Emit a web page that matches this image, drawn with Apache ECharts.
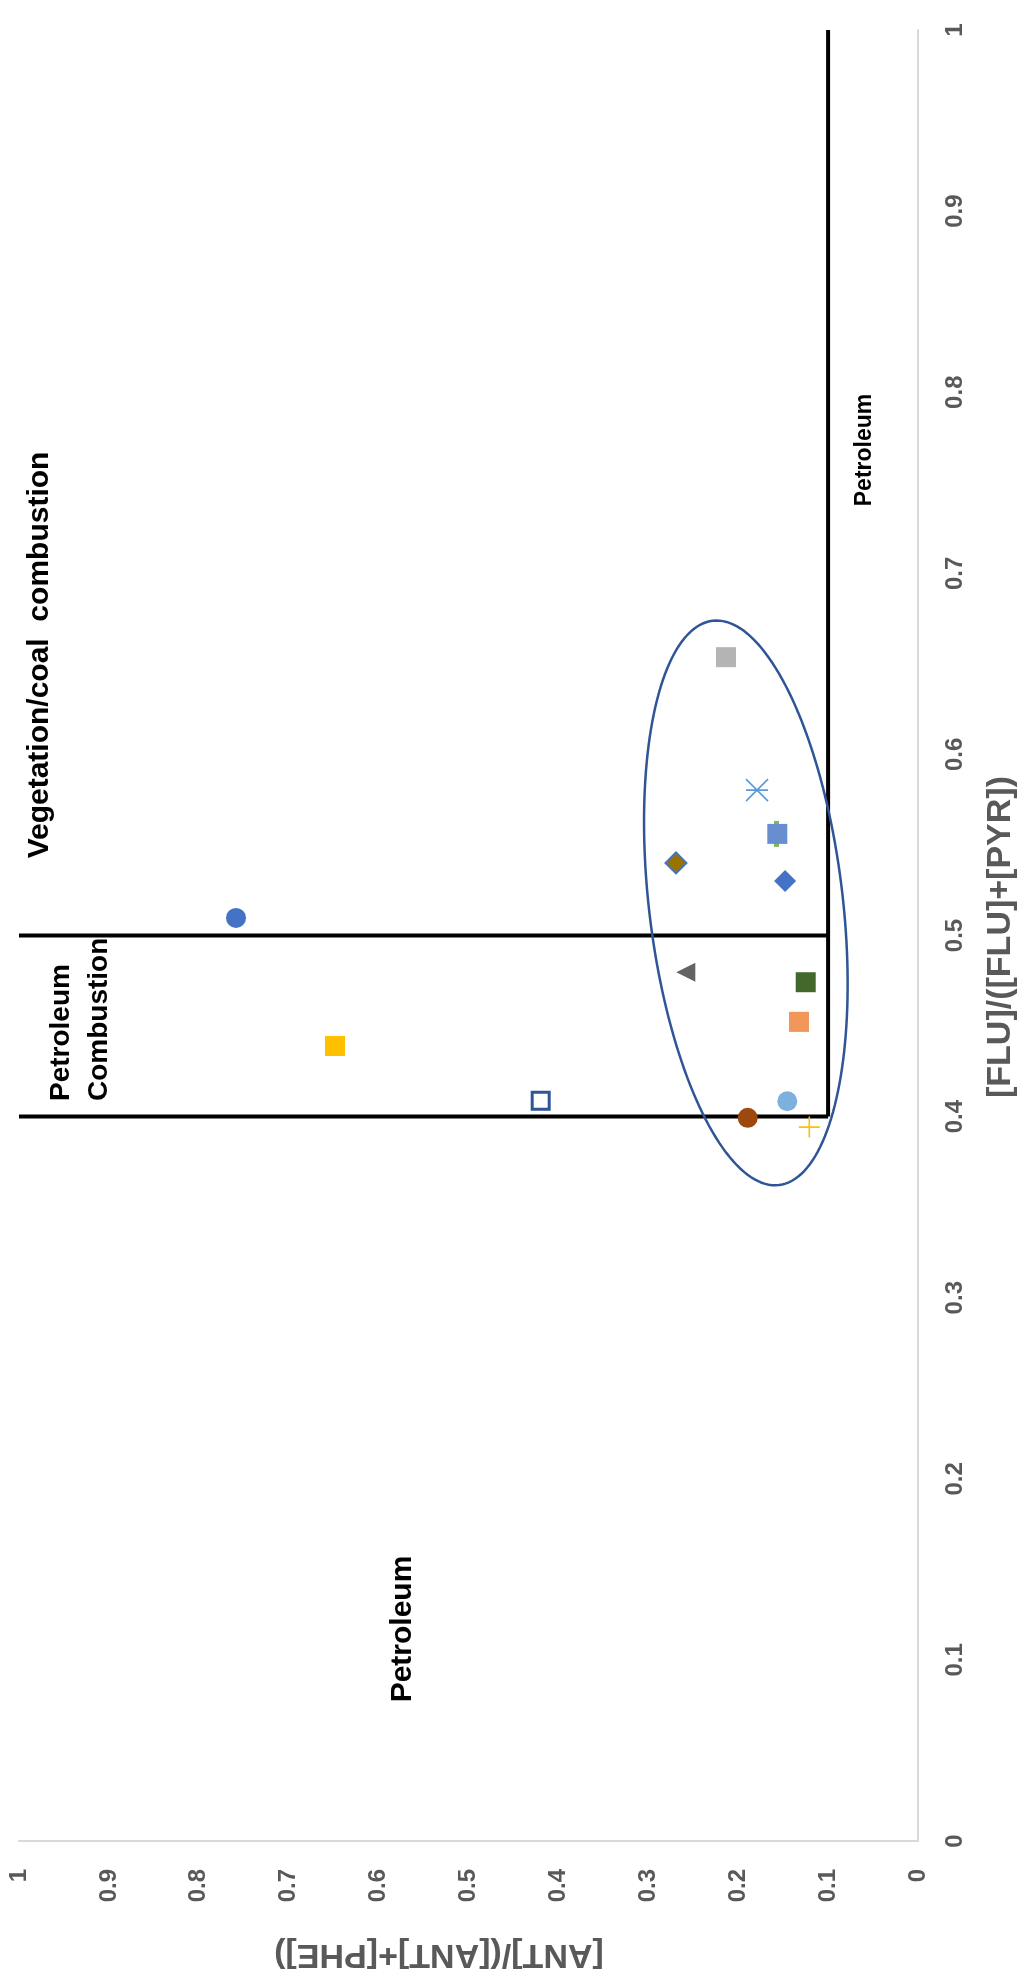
<!DOCTYPE html>
<html>
<head>
<meta charset="utf-8">
<script src="https://cdn.jsdelivr.net/npm/echarts@6/dist/echarts.min.js"></script>
<style>
  html, body { margin: 0; padding: 0; background: #ffffff; }
  #chart { width: 1021px; height: 1986px; }
</style>
</head>
<body>
<div id="chart"></div>
<script>
// PAH diagnostic ratios per sample: ANT/(ANT+PHE) and FLU/(FLU+PYR)
const antRatio = [0.7586, 0.6485, 0.4197, 0.2136, 0.1791, 0.1574, 0.1565, 0.2692, 0.1479, 0.2583, 0.1249, 0.1324, 0.1454, 0.1894, 0.1209];
const fluRatio = [0.5097, 0.4390, 0.4088, 0.6537, 0.5803, 0.5561, 0.5561, 0.5401, 0.5301, 0.4797, 0.4742, 0.4523, 0.4085, 0.3993, 0.3942];

// Axis ticks
const tickMin = 0, tickMax = 1, tickStep = 0.1;

// Source-region boundaries
const fluThresholds = [0.4, 0.5];   // FLU/(FLU+PYR) limits
const antThreshold = 0.1;           // ANT/(ANT+PHE) limit

// Cluster outline: centre [ANT, FLU] and two half-axis vectors in ratio units
const clusterCenter = [0.1915, 0.518];
const clusterAxisA = [-0.0368, -0.1558];
const clusterAxisB = [0.1071, -0.0062];

// Marker styles, one per sample (kept apart from the values)
const asterisk = 'path://M0,0L20,20M20,0L0,20M0,10L20,10';
const plus = 'path://M10,0L10,20M0,10L20,10';
const markerStyles = [
  { symbol: 'circle', size: 20, color: '#4472c4' },
  { symbol: 'rect', size: 20, color: '#ffc000' },
  { symbol: 'rect', size: 17, color: '#ffffff', border: '#2f5597', bw: 3 },
  { symbol: 'rect', size: 20, color: '#b4b4b4' },
  { symbol: asterisk, size: 22, color: 'rgba(0,0,0,0)', border: '#5b9bd5', bw: 1.6 },
  { symbol: 'rect', size: [5, 26], color: '#7fb95a' },
  { symbol: 'rect', size: 20, color: '#698ed0' },
  { symbol: 'diamond', size: 21, color: '#997300', border: '#4472c4', bw: 2 },
  { symbol: 'diamond', size: 22, color: '#4472c4' },
  { symbol: 'triangle', size: 19, color: '#636363', rotate: 90 },
  { symbol: 'rect', size: 20, color: '#43682b' },
  { symbol: 'rect', size: 20, color: '#f1975a' },
  { symbol: 'circle', size: 20, color: '#7eb0df' },
  { symbol: 'circle', size: 20, color: '#9e480e' },
  { symbol: plus, size: 21, color: 'rgba(0,0,0,0)', border: '#ffc000', bw: 1.6 }
];

const chart = echarts.init(document.getElementById('chart'));

const axisLabelStyle = {
  color: '#595959', fontSize: 24, fontWeight: 'bold', fontFamily: 'Liberation Sans, Arial, sans-serif', rotate: 90
};

const boundaryLine = (pts) => ({
  type: 'line', data: pts, symbol: 'none', silent: true, z: 3,
  lineStyle: { color: '#000000', width: 4 }, animation: false
});

const series = [];
fluThresholds.forEach(f => series.push(boundaryLine([[tickMax, f], [antThreshold, f]])));
series.push(boundaryLine([[antThreshold, fluThresholds[0]], [antThreshold, tickMax]]));

antRatio.forEach((a, i) => {
  const s = markerStyles[i];
  series.push({
    type: 'scatter', name: 'Sample ' + (i + 1), z: 4,
    data: [[a, fluRatio[i]]],
    symbol: s.symbol, symbolSize: s.size, symbolRotate: s.rotate || 0,
    itemStyle: { color: s.color, borderColor: s.border || s.color, borderWidth: s.bw || 0, opacity: 1 },
    animation: false
  });
});

series.push({
  type: 'custom', z: 6, silent: true, animation: false,
  data: [clusterCenter],
  renderItem: (params, api) => {
    const pts = [];
    const n = 180;
    for (let i = 0; i <= n; i++) {
      const t = i / n * Math.PI * 2;
      const a = clusterCenter[0] + clusterAxisA[0] * Math.cos(t) + clusterAxisB[0] * Math.sin(t);
      const f = clusterCenter[1] + clusterAxisA[1] * Math.cos(t) + clusterAxisB[1] * Math.sin(t);
      pts.push(api.coord([a, f]));
    }
    return { type: 'polygon', shape: { points: pts }, style: { fill: 'none', stroke: '#2f5597', lineWidth: 2.5 } };
  }
});

const textFont = 'Liberation Sans, Arial, sans-serif';
const rotatedText = (text, x, y, size, color, rot, align) => ({
  type: 'text', x: x, y: y, rotation: rot, silent: true, z: 10,
  style: {
    text: text, fill: color, fontSize: size, fontWeight: 'bold', fontFamily: textFont,
    align: align || 'center', verticalAlign: 'middle', lineHeight: Math.round(size * 1.36)
  }
});

chart.setOption({
  backgroundColor: '#ffffff',
  animation: false,
  grid: { left: 19, right: 103, top: 30, bottom: 145, containLabel: false },
  xAxis: {
    type: 'value', min: tickMin, max: tickMax, interval: tickStep, inverse: true, position: 'bottom',
    axisLine: { show: true, onZero: false, lineStyle: { color: '#d9d9d9', width: 2 } },
    axisTick: { show: false }, splitLine: { show: false },
    axisLabel: Object.assign({ margin: 28 }, axisLabelStyle)
  },
  yAxis: {
    type: 'value', min: tickMin, max: tickMax, interval: tickStep, position: 'right',
    axisLine: { show: true, onZero: false, lineStyle: { color: '#d9d9d9', width: 2 } },
    axisTick: { show: false }, splitLine: { show: false },
    axisLabel: Object.assign({ margin: 25 }, axisLabelStyle)
  },
  graphic: [
    rotatedText('[FLU]/([FLU]+[PYR])', 1001, 937, 34, '#595959', Math.PI / 2),
    rotatedText('[ANT]/([ANT]+[PHE])', 439, 1954, 34, '#595959', Math.PI),
    rotatedText('Vegetation/coal  combustion', 40, 655, 30, '#000000', Math.PI / 2),
    rotatedText('Petroleum\nCombustion', 80, 1101, 28, '#000000', Math.PI / 2, 'left'),
    rotatedText('Petroleum', 403, 1629, 30, '#000000', Math.PI / 2),
    rotatedText('Petroleum', 865, 450, 23, '#000000', Math.PI / 2)
  ],
  series: series
});
</script>
</body>
</html>
